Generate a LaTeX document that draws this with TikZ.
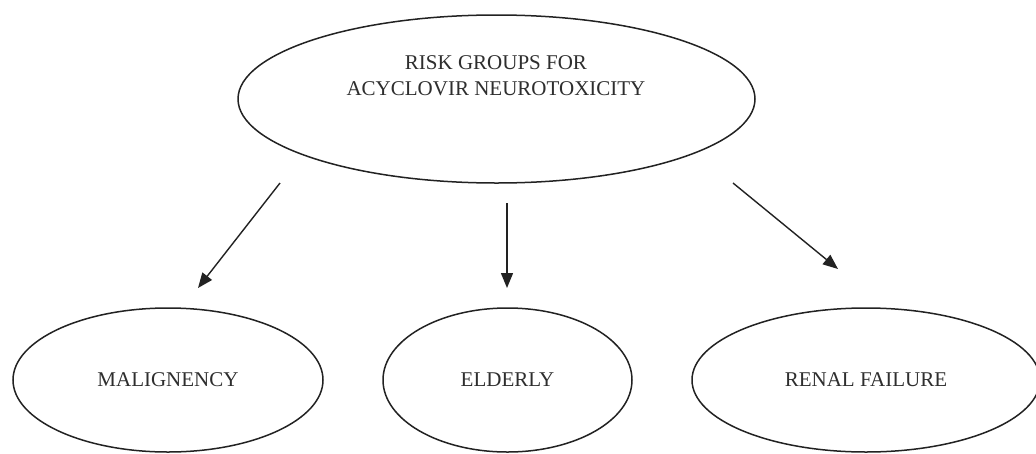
\documentclass[tikz,border=0pt]{standalone}
\usepackage{fontspec}
\setmainfont{Liberation Serif}
\usetikzlibrary{arrows.meta,shapes.geometric}
\definecolor{linec}{HTML}{222222}
\definecolor{textc}{HTML}{2E2E2E}
\begin{document}
\begin{tikzpicture}[x=1pt,y=-1pt,
  oval/.style={ellipse,draw=linec,line width=1.5pt,inner sep=0pt,text=textc,
    font=\fontsize{21}{26}\selectfont},
  lbl/.style={text=textc,font=\fontsize{21}{26}\selectfont,inner sep=0pt,anchor=base},
  arr/.style={draw=linec,line width=1.4pt,-{Triangle[length=15pt,width=12pt]}}]
\useasboundingbox (0,0) rectangle (1036,453);
\fill[white] (0,0) rectangle (1036,453);
% top
\node[oval,minimum width=517pt,minimum height=168pt] (top) at (496.5,99) {};
\node[lbl] (t1) at (496,69) {RISK GROUPS FOR};
\node[lbl] (t2) at (496,95) {ACYCLOVIR NEUROTOXICITY};
% bottom
\node[oval,minimum width=310pt,minimum height=144pt] (mal) at (168,380) {MALIGNENCY};
\node[oval,minimum width=249pt,minimum height=144pt] (eld) at (507.5,380) {ELDERLY};
\node[oval,minimum width=348pt,minimum height=144pt] (ren) at (866,380) {RENAL FAILURE};
% arrow ends
\coordinate (a1s) at (280,183);
\coordinate (a1e) at (198,288);
\coordinate (a2s) at (507,203);
\coordinate (a2e) at (507,288);
\coordinate (a3s) at (733,183);
\coordinate (a3e) at (838,269);
\draw[arr] (a1s) -- (a1e);
\draw[arr] (a2s) -- (a2e);
\draw[arr] (a3s) -- (a3e);
\end{tikzpicture}
\end{document}
